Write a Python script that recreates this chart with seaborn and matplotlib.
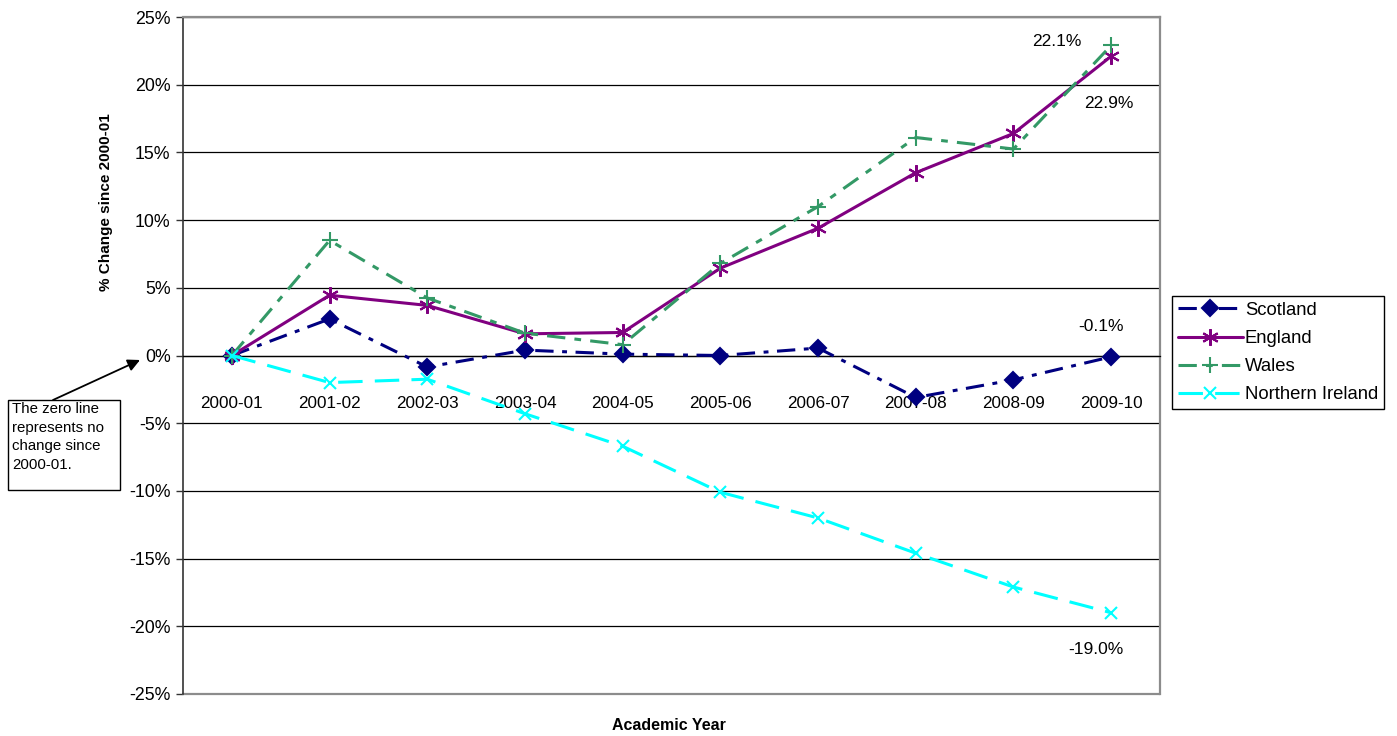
import matplotlib
matplotlib.use("Agg")
import matplotlib.pyplot as plt
from matplotlib.ticker import FixedLocator, FuncFormatter
from matplotlib.patches import Rectangle
import seaborn as sns
import pandas as pd

years = ["2000-01", "2001-02", "2002-03", "2003-04", "2004-05",
         "2005-06", "2006-07", "2007-08", "2008-09", "2009-10"]
scotland = [0.0, 2.7, -0.85, 0.4, 0.1, 0.0, 0.55, -3.1, -1.8, -0.1]
england = [0.0, 4.45, 3.7, 1.6, 1.7, 6.45, 9.4, 13.5, 16.4, 22.1]
wales = [0.0, 8.5, 4.25, 1.65, 0.8, 6.8, 11.0, 16.1, 15.25, 22.9]
n_ireland = [0.0, -2.0, -1.75, -4.3, -6.7, -10.1, -12.0, -14.6, -17.1, -19.0]
series_names = ["Scotland", "England", "Wales", "Northern Ireland"]
end_labels = ["-0.1%", "22.1%", "22.9%", "-19.0%"]
y_ticks = [-25, -20, -15, -10, -5, 0, 5, 10, 15, 20, 25]

sns.set_style("white")
plt.rcParams["font.family"] = ["Liberation Sans", "DejaVu Sans"]
plt.rcParams["text.color"] = "black"
plt.rcParams["axes.labelcolor"] = "black"
plt.rcParams["xtick.color"] = "black"
plt.rcParams["ytick.color"] = "black"

df = pd.DataFrame({"year": years * 4,
                   "value": scotland + england + wales + n_ireland,
                   "series": sum([[s] * len(years) for s in series_names], [])})

W, H = 1397, 736
fig = plt.figure(figsize=(W / 100, H / 100), dpi=100)
ax = fig.add_axes([183 / W, 1 - 694 / H, (1160 - 183) / W, (694 - 17) / H])

styles = {
    "Scotland": dict(color="#000080", marker="D", markersize=8, dashes=(6, 2.8, 1.6, 2.8)),
    "England": dict(color="#800080", marker=(6, 2, 0), markersize=12, dashes=None),
    "Wales": dict(color="#339966", marker="+", markersize=11, dashes=(6, 3, 2.2, 3)),
    "Northern Ireland": dict(color="#00FFFF", marker="x", markersize=9, dashes=(8, 4)),
}

handles = []
for name in series_names:
    st = styles[name]
    sub = df[df["series"] == name]
    sns.lineplot(data=sub, x="year", y="value", ax=ax, color=st["color"],
                 marker=st["marker"], markersize=st["markersize"],
                 markeredgecolor=st["color"], markeredgewidth=1.5,
                 linewidth=2.2, sort=False, zorder=3, legend=False)
    line = ax.get_lines()[-1]
    if st["dashes"] is not None:
        line.set_dashes(st["dashes"])
    line.set_label(name)
    handles.append(line)

ax.set_xlim(-0.5, len(years) - 0.5)
ax.set_ylim(-25, 25)
ax.yaxis.set_major_locator(FixedLocator(y_ticks))
ax.yaxis.set_major_formatter(FuncFormatter(lambda v, p: f"{int(v)}%"))
ax.grid(axis="y", color="black", linewidth=0.9, zorder=0)
ax.grid(axis="x", visible=False)
ax.axhline(-25, color="#8c8c8c", linewidth=1.6, zorder=2.5, clip_on=False)

ax.spines["bottom"].set_position(("data", 0))
ax.spines["bottom"].set_color("black")
ax.spines["bottom"].set_linewidth(0.9)
ax.spines["left"].set_color("#333333")
ax.spines["left"].set_linewidth(1.2)
for s in ["top", "right"]:
    ax.spines[s].set_color("#8c8c8c")
    ax.spines[s].set_linewidth(1.6)

ax.set_xticks(range(len(years)))
ax.set_xticklabels(years)
ax.set_xticks([i + 0.5 for i in range(len(years) - 1)], minor=True)
ax.tick_params(axis="x", which="major", length=0, pad=29, labelsize=12.3)
ax.tick_params(axis="x", which="minor", length=5, width=1, direction="out", color="black")
ax.tick_params(axis="y", length=5, width=1, direction="out", labelsize=12.8, pad=4,
               color="#333333", left=True)
ax.set_xlabel("")
ax.set_ylabel("% Change since 2000-01", fontsize=11, fontweight="bold")
ax.yaxis.set_label_coords(-0.072, 0.727)
fig.text(669 / W, 1 - 726 / H, "Academic Year", ha="center", va="center",
         fontsize=11.5, fontweight="bold")

last = len(years) - 1
offsets = {"Scotland": (-10, 30), "England": (-54, 15), "Wales": (-2, -58),
           "Northern Ireland": (-15, -37)}
values = {"Scotland": scotland, "England": england, "Wales": wales,
          "Northern Ireland": n_ireland}
for name, lab in zip(series_names, end_labels):
    dx, dy = offsets[name]
    ax.annotate(lab, xy=(last, values[name][last]), xytext=(dx * 0.72, dy * 0.72),
                textcoords="offset points", ha="center", va="center", fontsize=12.5)

leg = fig.legend(handles=handles, labels=series_names, loc="upper left",
                 bbox_to_anchor=(1172 / W, 1 - 296 / H), borderaxespad=0,
                 fontsize=13.3, frameon=True, fancybox=False, framealpha=1,
                 edgecolor="black", handlelength=3.5, handletextpad=0.12,
                 labelspacing=0.6, borderpad=0.32)
leg.get_frame().set_linewidth(1.0)

# note box with arrow pointing at the zero line
fig.patches.append(Rectangle((8 / W, 1 - 490 / H), 112 / W, 90 / H,
                             transform=fig.transFigure, fc="white", ec="black",
                             lw=1, zorder=5))
fig.text(12 / W, 1 - 402 / H, "The zero line\nrepresents no\nchange since\n2000-01.",
         ha="left", va="top", fontsize=10.8, linespacing=1.42, zorder=6)
ax.annotate("", xy=(140 / W, 1 - 360 / H), xycoords="figure fraction",
            xytext=(53 / W, 1 - 400 / H), textcoords="figure fraction",
            arrowprops=dict(arrowstyle="-|>", color="black", lw=1.3,
                            mutation_scale=18, shrinkA=0, shrinkB=0),
            annotation_clip=False)

fig.savefig("out.png", dpi=100)
